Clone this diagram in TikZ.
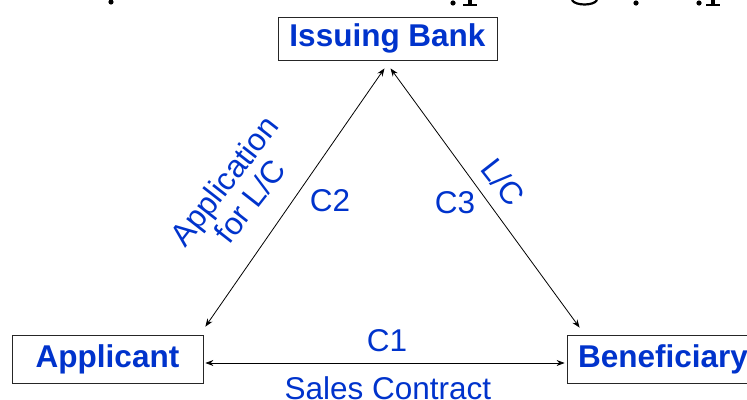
\documentclass[tikz,border=0pt]{standalone}
\usepackage{fontspec}
\setmainfont{Liberation Sans}
\usetikzlibrary{arrows.meta}
\definecolor{lcblue}{RGB}{0,51,204}
\begin{document}
\begin{tikzpicture}[x=1pt,y=-1pt,
  party/.style={draw=black!85, line width=0.8pt, fill=white, inner sep=0pt,
    font=\fontsize{31.5}{31.5}\selectfont\bfseries, text=lcblue},
  lbl/.style={font=\fontsize{31.5}{33}\selectfont, text=lcblue, inner sep=0pt, align=center},
  link/.style={draw=black, line width=0.8pt, {Stealth[length=8pt,width=6pt]}-{Stealth[length=8pt,width=6pt]}},
  frag/.style={fill=black, draw=none}]
\useasboundingbox (0,0) rectangle (747,399);
\clip (0,0) rectangle (747,399);

% descenders of a heading line cut off above
\fill[frag] (111,2) circle (2.6);
\fill[frag] (453,3) circle (2.6);
\fill[frag] (468,0) rectangle (472,5);
\fill[frag] (463,4) rectangle (477,6);
\draw[line width=2.2pt] (572,0) .. controls (575,6) and (594,6) .. (597,0);
\fill[frag] (636,3) circle (2.6);
\fill[frag] (699,3) circle (2.6);
\fill[frag] (711,0) rectangle (715,5);
\fill[frag] (706,4) rectangle (720,6);

% parties
\node[party, minimum width=219pt, minimum height=43pt] (bank) at (387.5,38.5) {Issuing Bank};
\node[party, minimum width=191pt, minimum height=48pt] (app) at (107.5,359) {Applicant};
\node[party, minimum width=192pt, minimum height=48pt] (ben) at (663,359) {Beneficiary};

% contracts
\draw[link] ([xshift=2pt,yshift=8pt]app.north east) -- ([xshift=-3pt,yshift=-8pt]bank.south);
\draw[link] ([xshift=3pt,yshift=-8pt]bank.south) -- ([xshift=13pt,yshift=7pt]ben.north west);
\draw[link] ([xshift=2pt,yshift=-4pt]app.east) -- ([xshift=-2pt,yshift=-4pt]ben.west);

% labels
\node[lbl, rotate=52] (appl) at (237,191) {Application\\for L/C};
\node[lbl] (c2) at (330,201) {C2};
\node[lbl] (c3) at (455,203) {C3};
\node[lbl, rotate=-52] (lc) at (503,182) {L/C};
\node[lbl] (c1) at (387,341) {C1};
\node[lbl, anchor=base] (sales) at (388,399) {Sales Contract};
\end{tikzpicture}
\end{document}
